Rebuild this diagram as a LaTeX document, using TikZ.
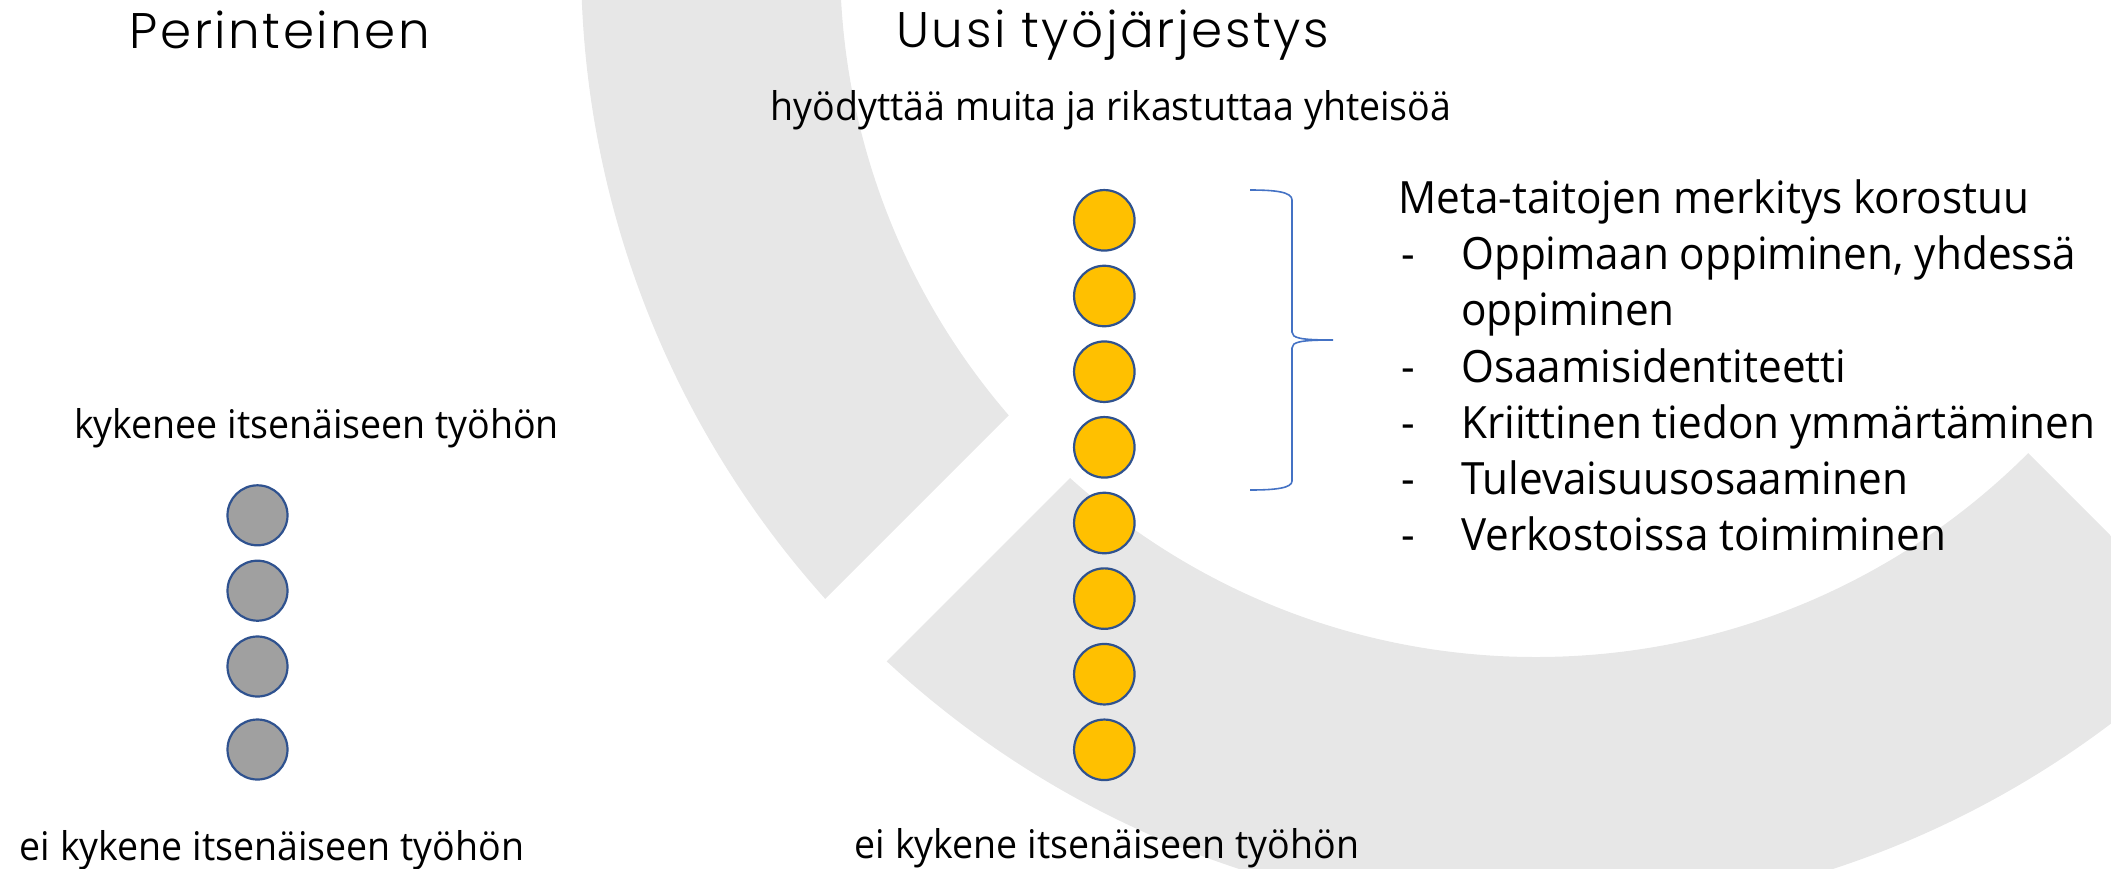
\documentclass[tikz,border=0pt]{standalone}
\usepackage{fontspec}
\setmainfont{Open Sans}[FakeStretch=0.95]
\IfFontExistsTF{Poppins Light}
  {\newfontfamily\titlefont{Poppins Light}[LetterSpace=5]}
  {\newfontfamily\titlefont{Poppins}[LetterSpace=5]}
\definecolor{ringgray}{HTML}{E7E7E7}
\definecolor{dotgray}{HTML}{A0A0A0}
\definecolor{dotyellow}{HTML}{FFC000}
\definecolor{dotedge}{HTML}{2F528F}
\definecolor{bracecol}{HTML}{4472C4}
\begin{document}
\begin{tikzpicture}[x=1pt,y=-1pt,
  titletext/.style={inner sep=0pt, font=\titlefont\fontsize{50}{60}\selectfont},
  bodytext/.style={inner sep=0pt, font=\fontsize{39.5}{47}\selectfont},
  listtext/.style={inner sep=0pt, anchor=base west, font=\fontsize{44.5}{53}\selectfont},
  graydot/.style={circle, draw=dotedge, line width=2.2pt, fill=dotgray, minimum size=60pt, inner sep=0pt},
  yellowdot/.style={circle, draw=dotedge, line width=2.2pt, fill=dotyellow, minimum size=60.5pt, inner sep=0pt},
  bracestyle/.style={draw=bracecol, line width=1.6pt}
]
\useasboundingbox (0,0) rectangle (2111,868);
% background ring
\begin{scope}
  \clip (0,0) rectangle (2111,868);
  \begin{scope}
    \clip (-10,-1100) -- (2524,-1100) -- (524,900) -- (-10,900) -- cycle;
    \fill[ringgray, even odd rule] (1536,-39) circle[radius=955pt] (1536,-39) circle[radius=696pt];
  \end{scope}
  \begin{scope}
    \clip (1561.5,-13.5) -- (548,1000) -- (2575,1000) -- cycle;
    \fill[ringgray, even odd rule] (1536,-39) circle[radius=955pt] (1536,-39) circle[radius=696pt];
  \end{scope}
\end{scope}
% titles
\node[titletext, anchor=base] (t1) at (280,48) {Perinteinen};
\node[titletext, anchor=base] (t2) at (1112.5,47) {Uusi työjärjestys};
% body texts
\node[bodytext, anchor=base] (sub) at (1111,120) {hyödyttää muita ja rikastuttaa yhteisöä};
\node[bodytext, anchor=base] (kyk) at (316.5,438) {kykenee itsenäiseen työhön};
\node[bodytext, anchor=base] (eil) at (272,860) {ei kykene itsenäiseen työhön};
\node[bodytext, anchor=base] (eir) at (1107,858) {ei kykene itsenäiseen työhön};
% gray dots
\node[graydot] (g1) at (257.5,515.3) {};
\node[graydot] (g2) at (257.5,590.7) {};
\node[graydot] (g3) at (257.5,666.5) {};
\node[graydot] (g4) at (257.5,749.5) {};
% yellow dots
\node[yellowdot] (y1) at (1104.3,220.3) {};
\node[yellowdot] (y2) at (1104.3,296.0) {};
\node[yellowdot] (y3) at (1104.3,371.7) {};
\node[yellowdot] (y4) at (1104.3,447.3) {};
\node[yellowdot] (y5) at (1104.3,523.0) {};
\node[yellowdot] (y6) at (1104.3,598.6) {};
\node[yellowdot] (y7) at (1104.3,674.2) {};
\node[yellowdot] (y8) at (1104.3,749.8) {};
% brace
\draw[bracestyle] (1250,190) .. controls (1276,190) and (1292,192) .. (1292,200)
  -- (1292,332) .. controls (1292,338) and (1300,340) .. (1333,340)
  .. controls (1300,340) and (1292,342) .. (1292,348)
  -- (1292,481) .. controls (1292,488) and (1276,490) .. (1250,490);
% list
\node[listtext] (meta) at (1398,213) {Meta-taitojen merkitys korostuu};
\node[listtext] (d1) at (1401,269.5) {-};
\node[listtext] (i1) at (1461,269.5) {Oppimaan oppiminen, yhdessä};
\node[listtext] (i1b) at (1461,325.8) {oppiminen};
\node[listtext] (d2) at (1401,382) {-};
\node[listtext] (i2) at (1461,382) {Osaamisidentiteetti};
\node[listtext] (d3) at (1401,438.3) {-};
\node[listtext] (i3) at (1461,438.3) {Kriittinen tiedon ymmärtäminen};
\node[listtext] (d4) at (1401,494.5) {-};
\node[listtext] (i4) at (1461,494.5) {Tulevaisuusosaaminen};
\node[listtext] (d5) at (1401,550.8) {-};
\node[listtext] (i5) at (1461,550.8) {Verkostoissa toimiminen};
\end{tikzpicture}
\end{document}
